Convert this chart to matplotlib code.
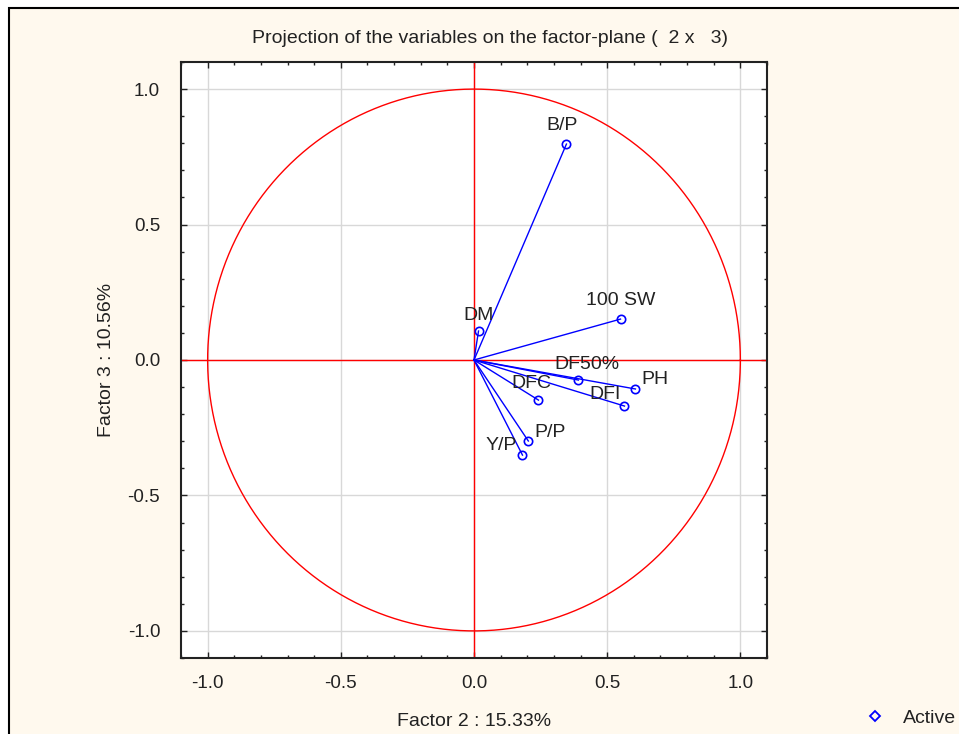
import numpy as np
import matplotlib.pyplot as plt
from matplotlib.lines import Line2D
from matplotlib.patches import Rectangle
from matplotlib.ticker import MultipleLocator

plt.rcParams['font.family'] = ['Liberation Sans', 'DejaVu Sans']

# loadings on factor 2 (x) and factor 3 (y)
names = ['B/P', '100 SW', 'DM', 'DF50%', 'PH', 'DFI', 'DFC', 'P/P', 'Y/P']
f2 = [0.347, 0.550, 0.017, 0.392, 0.606, 0.565, 0.242, 0.204, 0.182]
f3 = [0.797, 0.151, 0.107, -0.074, -0.107, -0.170, -0.148, -0.299, -0.351]

# label offsets in points (dx, dy) and alignment
label_pos = {
    'B/P': (-3, 7, 'center'),
    '100 SW': (0, 7, 'center'),
    'DM': (0, 5, 'center'),
    'DF50%': (-17, 5, 'left'),
    'PH': (4, 1, 'left'),
    'DFI': (-3, 2, 'right'),
    'DFC': (9, 6, 'right'),
    'P/P': (4, 0, 'left'),
    'Y/P': (-4, 1, 'right'),
}

W, H = 959, 734
fig = plt.figure(figsize=(W / 100, H / 100), dpi=100, facecolor='white')
# cream panel with black frame
fig.patches.append(Rectangle((9 / W, -0.05), 1.1, 1.05 - 8 / H, transform=fig.transFigure,
                             facecolor='#fff9ee', edgecolor='black', linewidth=1.5, zorder=-10))

ax = fig.add_axes([181 / W, 76 / H, 586 / W, 596 / H])
ax.set_facecolor('white')

ax.set_xlim(-1.1, 1.1)
ax.set_ylim(-1.1, 1.1)
ticks = [-1.0, -0.5, 0.0, 0.5, 1.0]
ax.set_xticks(ticks)
ax.set_yticks(ticks)
ax.set_xticklabels(['%.1f' % t for t in ticks], fontsize=13.5)
ax.set_yticklabels(['%.1f' % t for t in ticks], fontsize=13.5)
ax.xaxis.set_minor_locator(MultipleLocator(0.1))
ax.yaxis.set_minor_locator(MultipleLocator(0.1))
ax.grid(True, color='#d8d8d8', linewidth=1)
ax.set_axisbelow(True)
ax.tick_params(which='both', direction='in', top=True, right=True, color='#222222')
ax.tick_params(which='major', length=4, width=1, pad=12, labelcolor='#222222')
ax.tick_params(axis='y', which='major', pad=15)
ax.tick_params(which='minor', length=2, width=1)
for s in ax.spines.values():
    s.set_linewidth(1.5)
    s.set_color('#222222')

# unit circle and axes
t = np.linspace(0, 2 * np.pi, 400)
ax.plot(np.cos(t), np.sin(t), color='red', linewidth=1)
ax.axhline(0, color='red', linewidth=1)
ax.axvline(0, color='red', linewidth=1)

for n, x, y in zip(names, f2, f3):
    ax.plot([0, x], [0, y], color='blue', linewidth=1)
    dx, dy, ha = label_pos[n]
    ax.annotate(n, (x, y), xytext=(dx, dy), textcoords='offset points',
                ha=ha, va='bottom', fontsize=14, color='#222222')
ax.plot(f2, f3, 'o', mfc='none', mec='blue', ms=6, mew=1.2, linestyle='none')

ax.set_title('Projection of the variables on the factor-plane (  2 x   3)', fontsize=14,
             pad=14, color='#222222', x=0.527)
ax.set_xlabel('Factor 2 : 15.33%', fontsize=14, labelpad=15, color='#222222')
ax.set_ylabel('Factor 3 : 10.56%', fontsize=14, labelpad=9, color='#222222')

# legend at bottom right
handle = Line2D([], [], marker='D', mfc='none', mec='blue', ms=5, mew=1.3, linestyle='none')
fig.legend([handle], ['Active'], loc='lower right', bbox_to_anchor=(1.015, -0.014),
           frameon=False, fontsize=14, handletextpad=0.45, labelcolor='#222222')

fig.savefig('out.png', dpi=100, facecolor=fig.get_facecolor())
